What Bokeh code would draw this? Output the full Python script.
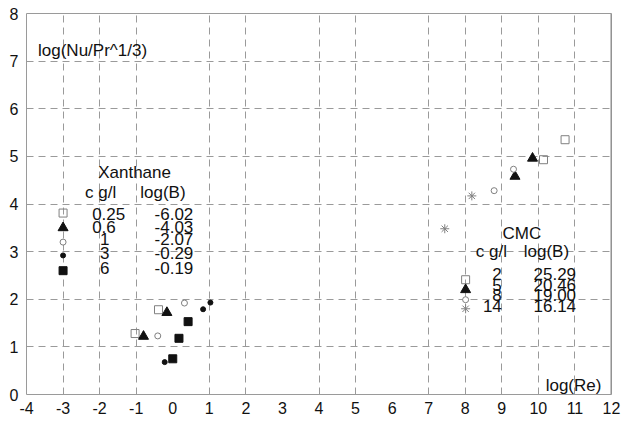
from bokeh.plotting import figure
from bokeh.models import FixedTicker, Range1d, Span
from bokeh.core.properties import value
from bokeh.embed import file_html
from bokeh.resources import INLINE

# ---------------- data ----------------
# Xanthane series: log(Re), log(Nu/Pr^1/3)
xan_025_x = [-1.03, -0.39]
xan_025_y = [1.28, 1.78]
xan_06_x = [-0.80, -0.16]
xan_06_y = [1.22, 1.72]
xan_1_x = [-0.41, 0.32]
xan_1_y = [1.23, 1.92]
xan_3_x = [-0.22, 0.83, 1.03]
xan_3_y = [0.68, 1.79, 1.93]
xan_6_x = [0.00, 0.17, 0.42]
xan_6_y = [0.75, 1.18, 1.53]

# CMC series
cmc_2_x = [10.14, 10.73]
cmc_2_y = [4.93, 5.35]
cmc_5_x = [9.36, 9.84]
cmc_5_y = [4.58, 4.96]
cmc_8_x = [8.79, 9.32]
cmc_8_y = [4.28, 4.73]
cmc_14_x = [7.44, 8.18]
cmc_14_y = [3.48, 4.17]

# legend tables
xan_c = ["0.25", "0.6", "1", "3", "6"]
xan_logB = ["-6.02", "-4.03", "-2.07", "-0.29", "-0.19"]
cmc_c = ["2", "5", "8", "14"]
cmc_logB = ["25.29", "20.46", "19.00", "16.14"]

x_ticks = list(range(-4, 13))
y_ticks = list(range(0, 9))
x_grid = [-3, -2, -1, 1, 2, 4, 5, 7, 8, 9, 10, 11]
y_grid = [1, 2, 3, 4, 5, 6, 7]

# ---------------- figure ----------------
FONT = value("Liberation Sans")
TXT = "#111111"

p = figure(width=624, height=421, x_range=Range1d(-4, 12), y_range=Range1d(0, 8),
           output_backend="svg", toolbar_location=None,
           min_border_left=26, min_border_right=13, min_border_top=13, min_border_bottom=27)
p.background_fill_color = "white"
p.border_fill_color = "white"
p.outline_line_color = "#9a9a9a"
p.outline_line_width = 1

for ax, ticks, standoff in ((p.xaxis[0], x_ticks, 7), (p.yaxis[0], y_ticks, 8)):
    ax.ticker = FixedTicker(ticks=ticks)
    ax.major_label_overrides = {t: str(t) for t in ticks}
    ax.axis_line_color = None
    ax.major_tick_line_color = None
    ax.minor_tick_line_color = None
    ax.major_tick_out = 0
    ax.major_tick_in = 0
    ax.major_label_standoff = standoff
    ax.major_label_text_font = "Liberation Sans"
    ax.major_label_text_font_size = "16px"
    ax.major_label_text_color = TXT

p.xgrid.ticker = FixedTicker(ticks=x_grid)
p.ygrid.ticker = FixedTicker(ticks=y_grid)
for g in (p.xgrid[0], p.ygrid[0]):
    g.grid_line_color = "#9a9a9a"
    g.grid_line_dash = "7 5"
    g.grid_line_width = 1

p.add_layout(Span(location=12, dimension="height", line_color="#8c8c8c", line_width=2))

GRAY = "#808080"
BLACK = "#111111"

def open_sq(x, y):
    p.scatter(x, y, marker="square", size=8, fill_color=None, line_color=GRAY, line_width=1)

def tri(x, y):
    p.scatter(x, y, marker="triangle", size=10, fill_color=BLACK, line_color=BLACK)

def open_circ(x, y):
    p.scatter(x, y, marker="circle", size=6, fill_color="white", line_color=GRAY, line_width=1)

def dot(x, y):
    p.scatter(x, y, marker="circle", size=5, fill_color=BLACK, line_color=BLACK)

def fill_sq(x, y):
    p.scatter(x, y, marker="square", size=8, fill_color=BLACK, line_color=BLACK)

def star(x, y):
    p.scatter(x, y, marker="asterisk", size=9, line_color=GRAY, line_width=1)

# data points
open_sq(xan_025_x, xan_025_y)
tri(xan_06_x, xan_06_y)
open_circ(xan_1_x, xan_1_y)
dot(xan_3_x, xan_3_y)
fill_sq(xan_6_x, xan_6_y)

open_sq(cmc_2_x, cmc_2_y)
tri(cmc_5_x, cmc_5_y)
open_circ(cmc_8_x, cmc_8_y)
star(cmc_14_x, cmc_14_y)

def txt(x, y, t, align="left", size="17px"):
    p.text(x=x, y=y, text=t, text_font=FONT, text_font_size=value(size),
           text_align=align, text_baseline="middle", text_color=TXT)

# axis titles (inside plot)
txt([-3.685], [7.22], ["log(Nu/Pr^1/3)"])
txt([10.2], [0.19], ["log(Re)"])

# Xanthane legend
xan_row_y = [3.80, 3.51, 3.27, 2.98, 2.65]
xan_mark_y = [3.81, 3.50, 3.20, 2.92, 2.60]
xan_mark_x = -3.0
txt([-2.04], [4.67], ["Xanthane"])
txt([-2.40], [4.25], ["c g/l"])
txt([-0.89], [4.25], ["log(B)"])
txt([-2.205, -2.205, -1.99, -1.99, -1.99], xan_row_y, xan_c)
txt([0.562] * 5, xan_row_y, xan_logB, align="right")
open_sq([xan_mark_x], [xan_mark_y[0]])
tri([xan_mark_x], [xan_mark_y[1]])
open_circ([xan_mark_x], [xan_mark_y[2]])
dot([xan_mark_x], [xan_mark_y[3]])
fill_sq([xan_mark_x], [xan_mark_y[4]])

# CMC legend
cmc_row_y = [2.52, 2.30, 2.08, 1.86]
cmc_mark_y = [2.41, 2.20, 1.99, 1.80]
cmc_mark_x = 8.01
txt([9.02], [3.38], ["CMC"])
txt([8.29], [3.00], ["c g/l"])
txt([9.60], [3.00], ["log(B)"])
txt([9.0] * 4, cmc_row_y, cmc_c, align="right")
txt([11.03] * 4, cmc_row_y, cmc_logB, align="right")
open_sq([cmc_mark_x], [cmc_mark_y[0]])
tri([cmc_mark_x], [cmc_mark_y[1]])
open_circ([cmc_mark_x], [cmc_mark_y[2]])
star([cmc_mark_x], [cmc_mark_y[3]])

open("out.html", "w").write(file_html(p, INLINE))
